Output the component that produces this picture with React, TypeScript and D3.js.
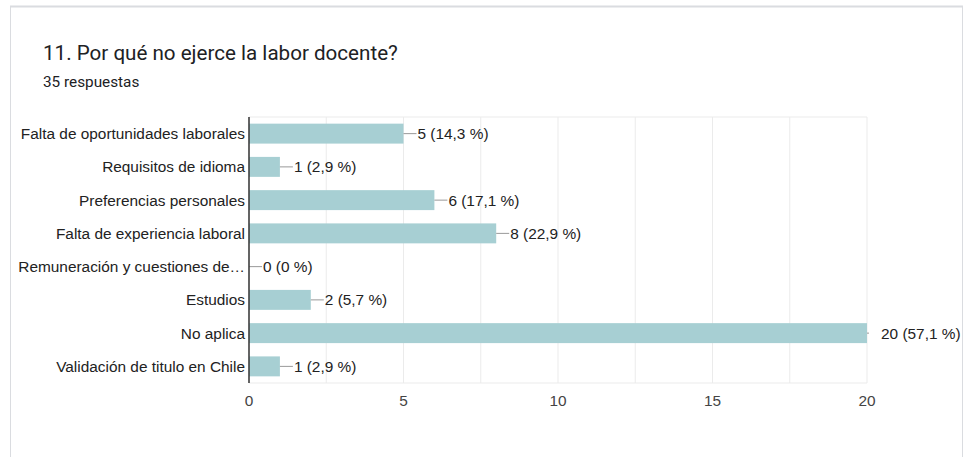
import React from "react";
import * as d3 from "d3";

const categories = [
  "Falta de oportunidades laborales",
  "Requisitos de idioma",
  "Preferencias personales",
  "Falta de experiencia laboral",
  "Remuneración y cuestiones de…",
  "Estudios",
  "No aplica",
  "Validación de titulo en Chile",
];
const counts = [5, 1, 6, 8, 0, 2, 20, 1];
const percents = ["14,3", "2,9", "17,1", "22,9", "0", "5,7", "57,1", "2,9"];
const xTicks = [0, 5, 10, 15, 20];
const gridTicks = [0, 2.5, 5, 7.5, 10, 12.5, 15, 17.5, 20];
const title = "11. Por qué no ejerce la labor docente?";
const subtitle = "35 respuestas";

const W = 964;
const H = 457;
const plot = { left: 249, right: 867, top: 117, bottom: 383 };
const chartFont = "Arial, 'Liberation Sans', sans-serif";
const fs = 15.4;

export default function App() {
  const x = d3.scaleLinear().domain([0, 20]).range([plot.left, plot.right]);
  const y = d3
    .scaleBand<string>()
    .domain(categories)
    .range([plot.top, plot.bottom])
    .paddingInner(0.4)
    .paddingOuter(0.2);

  return (
    <svg
      width={W}
      height={H}
      style={{ position: "absolute", left: 0, top: 0, background: "#fff" }}
    >
      {/* card */}
      <rect x={10.5} y={6.5} width={952} height={470} fill="#fff" stroke="#dadce0" strokeWidth={1} />
      <line x1={10} x2={963} y1={6.5} y2={6.5} stroke="#dadce0" strokeWidth={2} />

      <text x={43} y={60} fontFamily="Roboto, sans-serif" fontSize={20.6} fill="#202124">
        {title}
      </text>
      <text x={43} y={87} fontFamily="Roboto, sans-serif" fontSize={15.3} fill="#202124">
        {subtitle}
      </text>

      {/* grid */}
      {gridTicks.map((t) => (
        <line
          key={"g" + t}
          x1={x(t)}
          x2={x(t)}
          y1={plot.top}
          y2={plot.bottom}
          stroke="#ebebeb"
          strokeWidth={1}
        />
      ))}
      <line x1={plot.left} x2={plot.right} y1={plot.top} y2={plot.top} stroke="#ebebeb" />
      <line x1={plot.left} x2={plot.right} y1={plot.bottom} y2={plot.bottom} stroke="#ebebeb" />

      {/* bars */}
      {categories.map((c, i) => {
        const by = y(c)!;
        const bh = y.bandwidth();
        const x1 = x(counts[i]);
        const cy = by + bh / 2;
        const lineEnd = Math.min(x1 + 13, plot.right + 2);
        return (
          <g key={c}>
            {counts[i] > 0 && (
              <rect x={x(0)} y={by} width={x1 - x(0)} height={bh} fill="#a7cfd3" />
            )}
            <line x1={x1} x2={lineEnd} y1={cy} y2={cy} stroke="#999" strokeWidth={1} />
            <text
              x={x1 + 14}
              y={cy}
              dy="0.35em"
              fontFamily={chartFont}
              fontSize={fs}
              fill="#222"
            >
              {`${counts[i]} (${percents[i]} %)`}
            </text>
            <text
              x={245}
              y={cy}
              dy="0.35em"
              textAnchor="end"
              fontFamily={chartFont}
              fontSize={fs}
              fill="#222"
            >
              {c}
            </text>
          </g>
        );
      })}

      {/* axis */}
      <line x1={plot.left} x2={plot.left} y1={plot.top} y2={plot.bottom} stroke="#333" strokeWidth={1.5} />
      {xTicks.map((t) => (
        <text
          key={"t" + t}
          x={x(t)}
          y={406}
          textAnchor="middle"
          fontFamily={chartFont}
          fontSize={fs}
          fill="#444"
        >
          {t}
        </text>
      ))}
    </svg>
  );
}
